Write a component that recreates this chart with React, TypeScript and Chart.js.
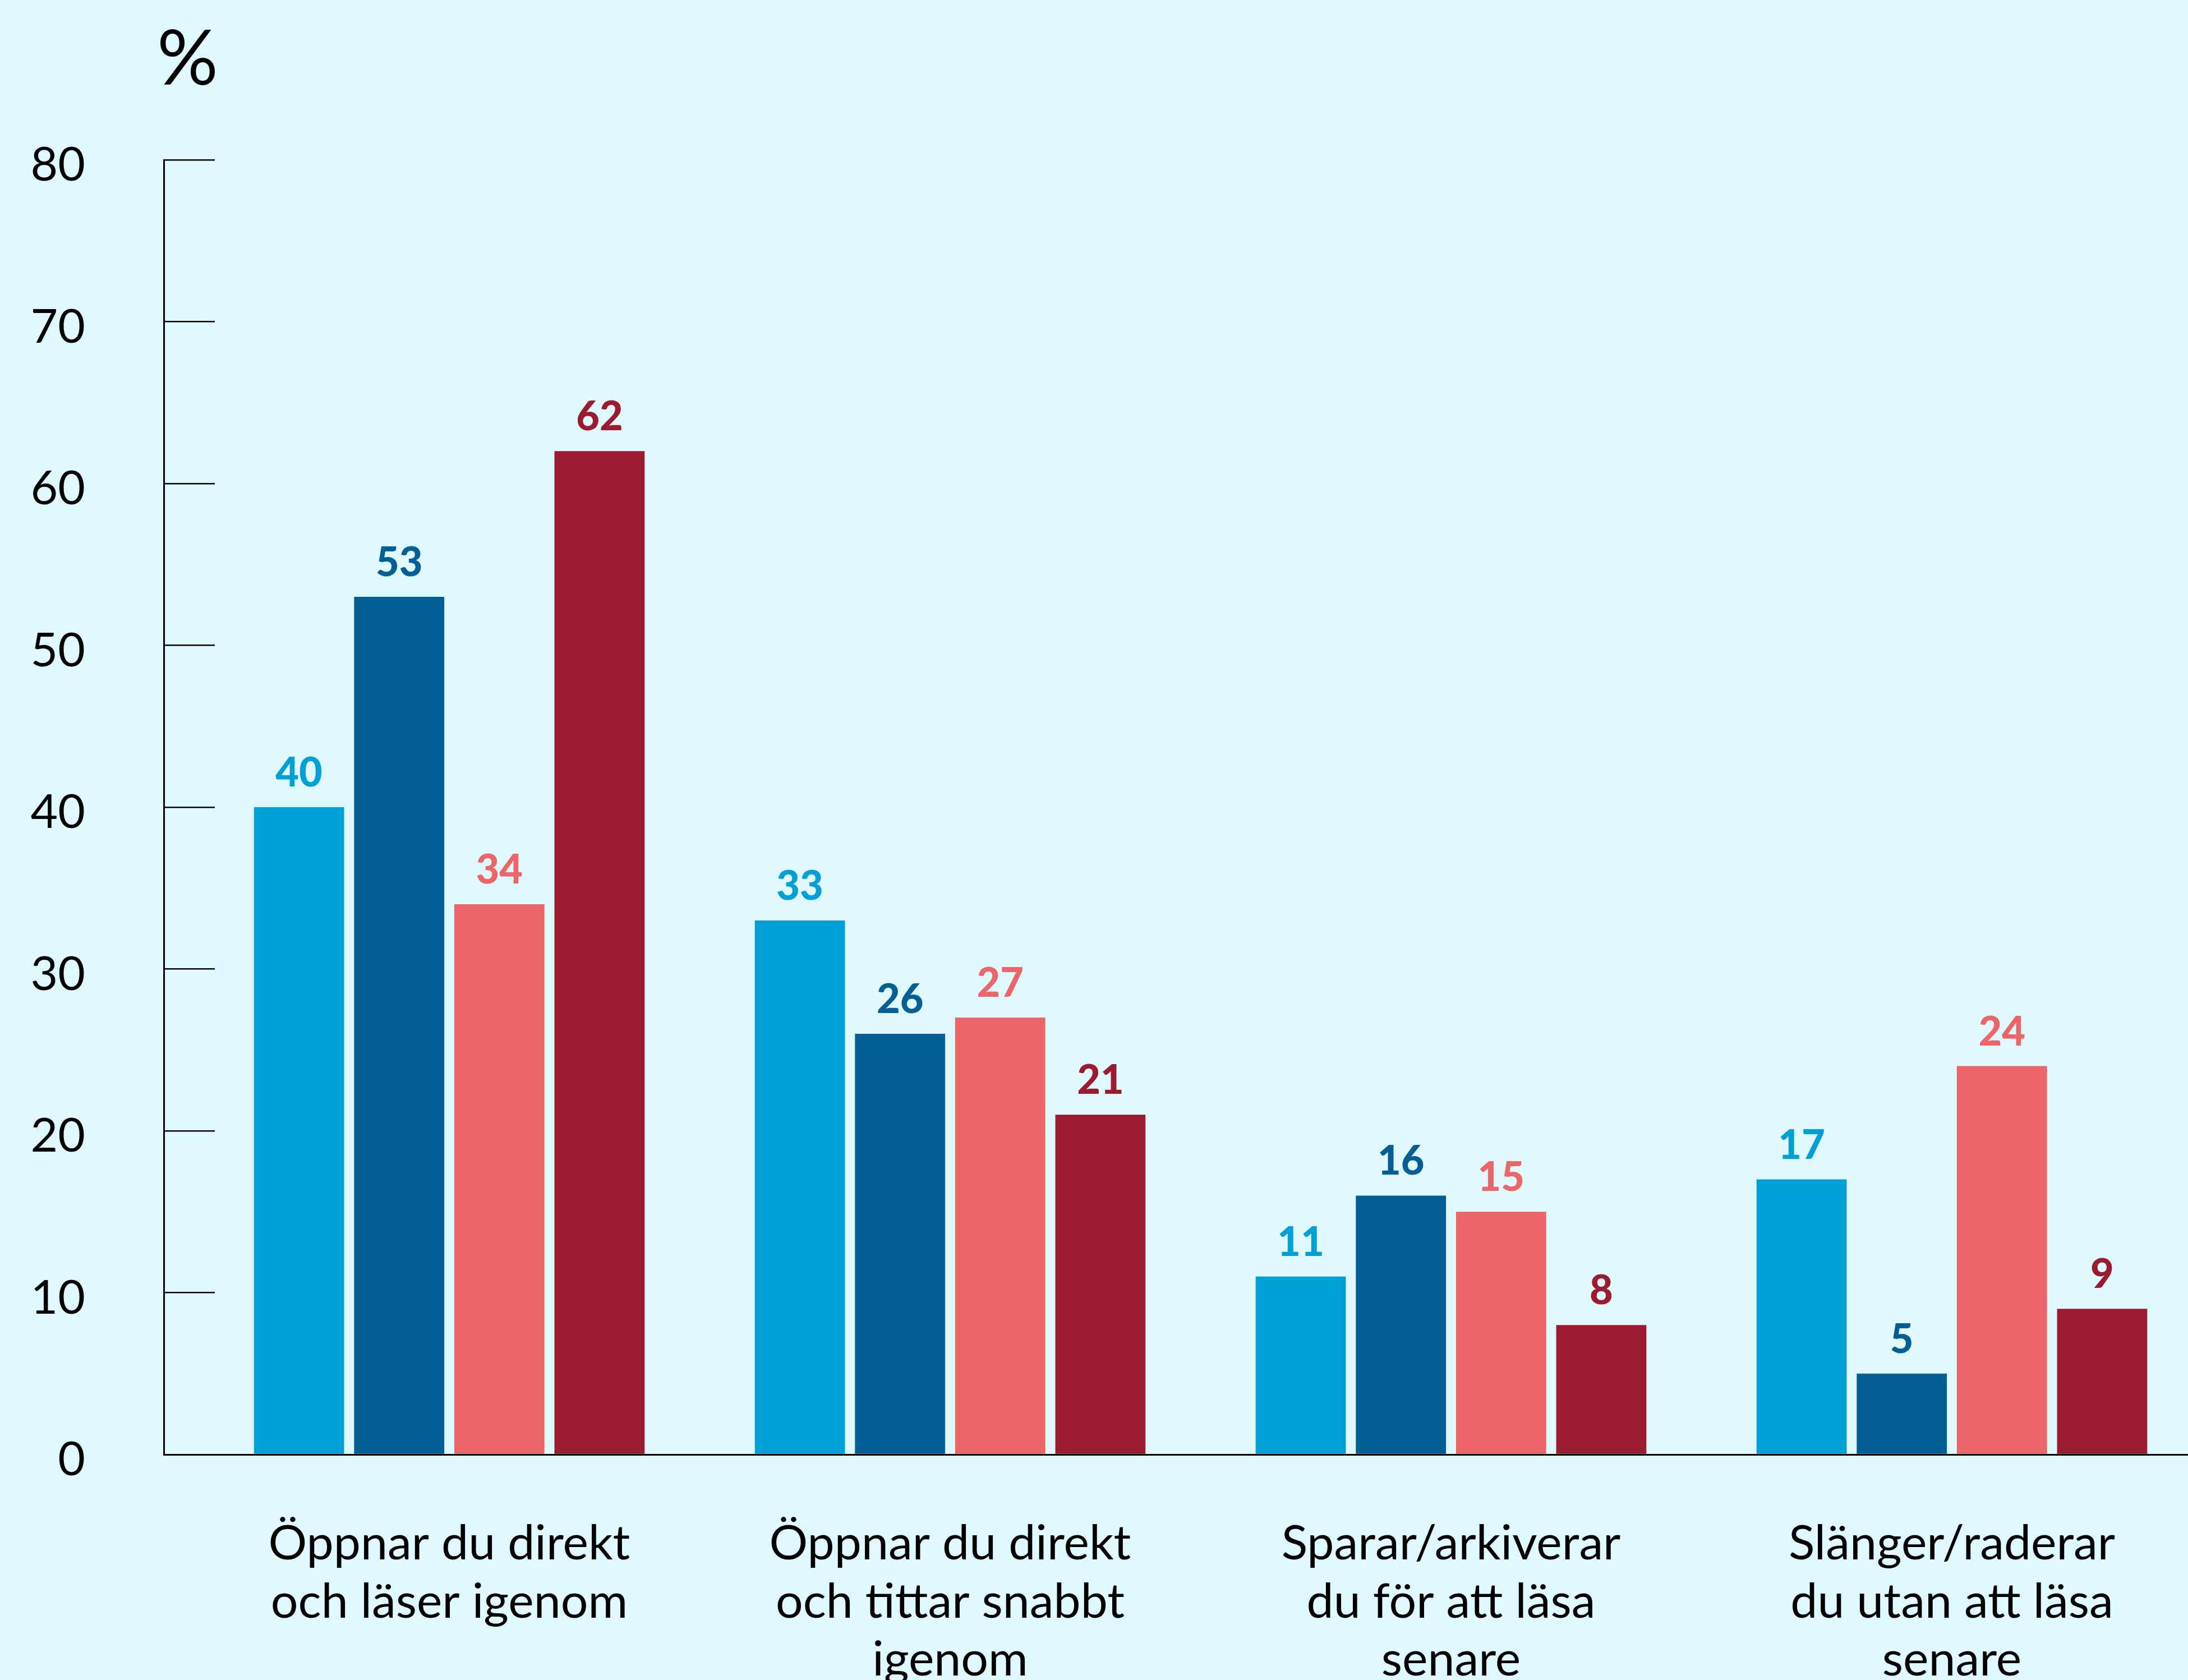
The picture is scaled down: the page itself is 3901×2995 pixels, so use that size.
import { useEffect, useRef } from "react";
import { Chart, registerables } from "chart.js";

Chart.register(...registerables);

// ---- Data ----
const categories: string[][] = [
  ["Öppnar du direkt", "och läser igenom"],
  ["Öppnar du direkt", "och tittar snabbt", "igenom"],
  ["Sparar/arkiverar", "du för att läsa", "senare"],
  ["Slänger/raderar", "du utan att läsa", "senare"],
];
const seriesNames = ["Serie 1", "Serie 2", "Serie 3", "Serie 4"];
const series1 = [40, 33, 11, 17];
const series2 = [53, 26, 16, 5];
const series3 = [34, 27, 15, 24];
const series4 = [62, 21, 8, 9];
const yTickValues = [0, 10, 20, 30, 40, 50, 60, 70, 80];
const unitLabel = "%";

// ---- Styles ----
const seriesColors = ["#00A0D6", "#045F94", "#EC6568", "#9B1B30"];
const BG = "#E0F8FF";
const FONT = "Lato, 'DejaVu Sans', sans-serif";
const W = 3901;
const H = 3013;

const valueLabelPlugin = {
  id: "valueLabels",
  afterDatasetsDraw(chart: any) {
    const ctx = chart.ctx;
    ctx.save();
    ctx.font = `900 72px ${FONT}`;
    ctx.textAlign = "center";
    ctx.textBaseline = "alphabetic";
    chart.data.datasets.forEach((ds: any, di: number) => {
      const meta = chart.getDatasetMeta(di);
      meta.data.forEach((el: any, i: number) => {
        ctx.fillStyle = ds.backgroundColor;
        ctx.fillText(String(ds.data[i].y), el.x, el.y - 37);
      });
    });
    ctx.restore();
  },
};

const unitPlugin = {
  id: "unitLabel",
  afterDraw(chart: any) {
    const ctx = chart.ctx;
    const a = chart.chartArea;
    ctx.save();
    ctx.font = `136px ${FONT}`;
    ctx.fillStyle = "#000";
    ctx.textAlign = "left";
    ctx.textBaseline = "middle";
    ctx.fillText(unitLabel, a.left - 12, a.top - 178);
    ctx.restore();
  },
};

export default function App() {
  const ref = useRef<HTMLCanvasElement | null>(null);

  useEffect(() => {
    document.body.style.margin = "0";
    document.body.style.overflow = "hidden";
    document.body.style.background = BG;
    document.documentElement.style.overflow = "hidden";
    if (!ref.current) return;

    const allSeries = [series1, series2, series3, series4];
    const chart = new Chart(ref.current, {
      type: "bar",
      data: {
        datasets: allSeries.map((s, si) => ({
          label: seriesNames[si],
          data: s.map((v, i) => ({ x: i, y: v })),
          backgroundColor: seriesColors[si],
          borderWidth: 0,
          categoryPercentage: 0.8,
          barPercentage: 0.9,
        })),
      },
      options: {
        animation: false,
        responsive: false,
        maintainAspectRatio: false,
        layout: { padding: { top: 285, left: 55, right: 0, bottom: 0 } },
        plugins: {
          legend: { display: false },
          tooltip: { enabled: false },
          title: { display: false },
        },
        scales: {
          x: {
            type: "linear",
            bounds: "data",
            offset: false,
            min: -0.57,
            max: 3.4714,
            afterBuildTicks: (axis: any) => {
              axis.ticks = categories.map((_, i) => ({ value: i }));
            },
            afterFit: (scale: any) => {
              scale.height = 420;
            },
            grid: { display: true, offset: false, drawOnChartArea: false, drawTicks: false },
            border: { display: true, color: "#000", width: 3 },
            ticks: {
              autoSkip: false,
              maxRotation: 0,
              minRotation: 0,
              padding: 108,
              color: "#000",
              font: { family: FONT, size: 86, lineHeight: 1.2 },
              callback: (v: any) => categories[v as number] ?? "",
            },
          },
          y: {
            type: "linear",
            min: 0,
            max: 80,
            afterBuildTicks: (axis: any) => {
              axis.ticks = yTickValues.map((v) => ({ value: v }));
            },
            afterFit: (scale: any) => {
              scale.width = 237;
            },
            grid: {
              display: true,
              drawOnChartArea: false,
              drawTicks: true,
              tickLength: -91,
              color: "#000",
              lineWidth: 2.5,
            },
            border: { display: true, color: "#000", width: 3 },
            ticks: {
              padding: 231,
              labelOffset: 10,
              color: "#000",
              font: { family: FONT, size: 84 },
            },
          },
        },
      },
      plugins: [valueLabelPlugin, unitPlugin],
    } as any);

    return () => chart.destroy();
  }, []);

  return (
    <div style={{ width: W, height: H, background: BG }}>
      <canvas ref={ref} width={W} height={H} style={{ width: W, height: H, display: "block" }} />
    </div>
  );
}
